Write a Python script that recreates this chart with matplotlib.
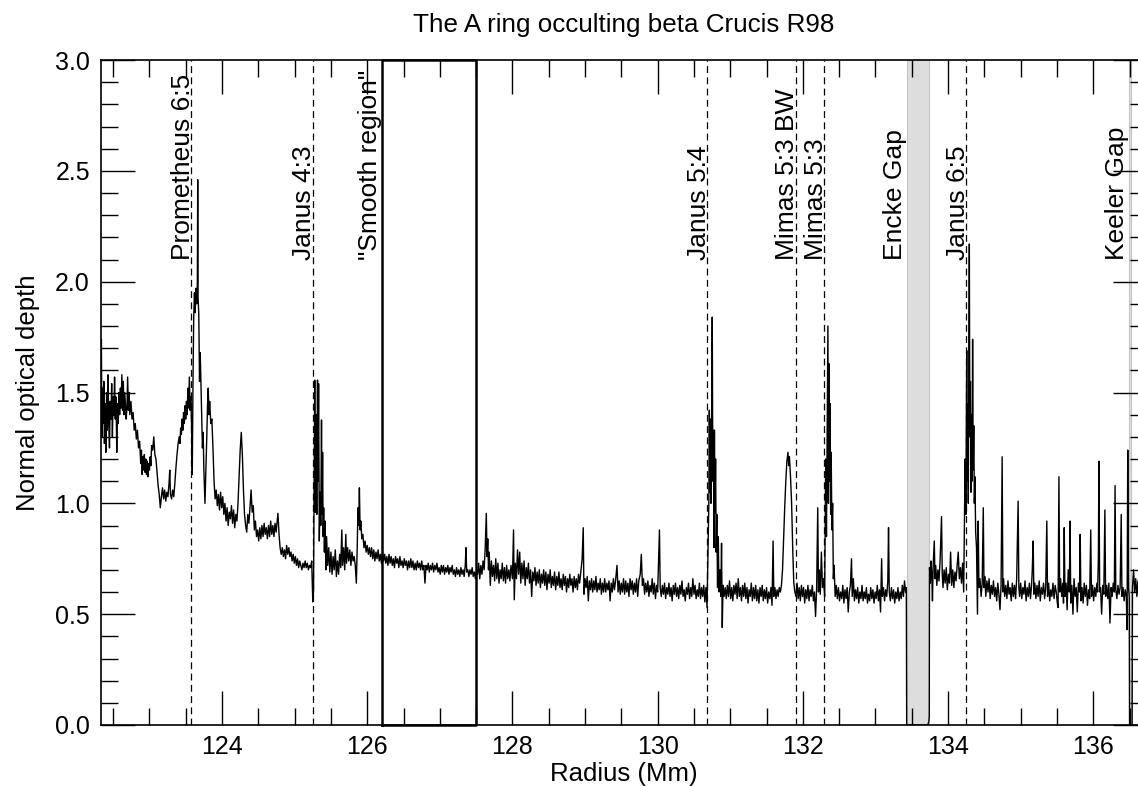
import matplotlib
matplotlib.use('Agg')
import matplotlib.pyplot as plt
from matplotlib.ticker import MultipleLocator
import numpy as np

plt.rcParams['font.family'] = ['Liberation Sans', 'DejaVu Sans']

# optical depth profile, (radius Mm, tau) pairs, region by region
inner_edge = [
    (122.330, 1.38), (122.338, 1.74), (122.346, 1.30), (122.355, 1.52), (122.363, 1.36),
    (122.372, 1.55), (122.380, 1.27), (122.390, 1.45), (122.400, 1.23), (122.410, 1.50),
    (122.420, 1.33), (122.430, 1.58), (122.440, 1.36), (122.450, 1.25), (122.460, 1.46),
    (122.470, 1.38), (122.480, 1.54), (122.490, 1.30), (122.500, 1.48), (122.510, 1.40),
    (122.520, 1.57), (122.530, 1.38), (122.540, 1.48), (122.550, 1.23), (122.560, 1.45),
    (122.570, 1.36), (122.580, 1.50), (122.590, 1.40), (122.600, 1.52), (122.610, 1.43),
    (122.620, 1.58), (122.630, 1.42), (122.640, 1.55), (122.650, 1.40), (122.660, 1.50),
    (122.670, 1.44), (122.680, 1.38), (122.690, 1.43), (122.700, 1.57), (122.710, 1.42),
    (122.720, 1.50), (122.730, 1.40), (122.745, 1.46), (122.760, 1.38), (122.775, 1.41),
    (122.790, 1.33), (122.805, 1.36), (122.820, 1.29), (122.835, 1.33), (122.850, 1.25),
    (122.865, 1.28), (122.880, 1.18), (122.890, 1.24), (122.900, 1.13), (122.910, 1.21),
    (122.920, 1.15), (122.930, 1.22), (122.940, 1.14), (122.950, 1.20), (122.960, 1.13),
    (122.970, 1.19), (122.980, 1.12), (122.990, 1.18), (123.000, 1.15), (123.010, 1.21),
    (123.020, 1.17), (123.030, 1.26), (123.045, 1.24), (123.060, 1.30), (123.075, 1.22),
    (123.090, 1.20), (123.105, 1.14), (123.120, 1.08), (123.135, 1.04), (123.150, 0.98),
    (123.165, 1.03), (123.180, 1.07), (123.195, 1.02), (123.210, 1.06), (123.225, 1.01),
    (123.240, 1.05), (123.255, 1.03), (123.270, 1.09), (123.280, 1.15), (123.290, 1.04),
    (123.305, 1.02), (123.320, 1.06), (123.335, 1.03), (123.350, 1.09), (123.365, 1.16),
    (123.380, 1.22), (123.395, 1.27), (123.410, 1.30), (123.420, 1.27), (123.430, 1.34),
    (123.440, 1.31), (123.450, 1.38), (123.460, 1.33), (123.470, 1.41), (123.480, 1.36),
    (123.490, 1.44), (123.500, 1.38), (123.510, 1.46), (123.520, 1.40), (123.530, 1.52),
    (123.540, 1.43), (123.550, 1.57), (123.560, 1.42), (123.570, 1.48), (123.580, 1.36),
    (123.590, 1.13), (123.600, 1.55), (123.610, 1.84), (123.620, 1.95), (123.630, 1.86),
    (123.640, 1.97), (123.650, 1.90), (123.660, 1.99), (123.665, 2.46), (123.670, 1.93),
    (123.680, 1.85), (123.690, 1.55), (123.700, 1.68), (123.710, 1.53), (123.720, 1.40),
    (123.730, 1.25), (123.740, 1.32), (123.750, 1.15), (123.765, 1.00), (123.775, 1.12),
    (123.790, 1.30), (123.800, 1.44), (123.810, 1.52), (123.820, 1.40), (123.830, 1.46),
    (123.845, 1.36), (123.860, 1.38), (123.875, 1.25), (123.890, 1.10), (123.905, 1.02),
    (123.920, 1.06), (123.935, 0.99), (123.950, 1.04), (123.965, 0.97), (123.980, 1.05),
    (123.995, 0.98),
]

prometheus_to_janus43 = [
    (124.010, 1.03), (124.025, 0.95), (124.040, 1.00), (124.055, 0.92), (124.070, 0.98),
    (124.085, 0.90), (124.100, 0.96), (124.115, 0.93), (124.130, 0.99), (124.145, 0.91),
    (124.160, 0.97), (124.175, 0.89), (124.190, 0.95), (124.205, 0.92), (124.220, 1.00),
    (124.235, 1.12), (124.250, 1.24), (124.265, 1.32), (124.280, 1.22), (124.295, 1.06),
    (124.310, 0.95), (124.325, 0.90), (124.340, 0.87), (124.355, 0.95), (124.370, 0.91),
    (124.385, 0.98), (124.400, 1.06), (124.415, 0.96), (124.430, 0.99), (124.445, 0.88),
    (124.460, 0.92), (124.475, 0.85), (124.490, 0.88), (124.505, 0.83), (124.520, 0.89),
    (124.535, 0.84), (124.550, 0.90), (124.565, 0.85), (124.580, 0.91), (124.595, 0.86),
    (124.610, 0.89), (124.625, 0.84), (124.640, 0.90), (124.655, 0.85), (124.670, 0.92),
    (124.685, 0.86), (124.700, 0.90), (124.715, 0.85), (124.730, 0.91), (124.745, 0.87),
    (124.760, 0.92), (124.770, 0.955), (124.785, 0.86), (124.800, 0.80), (124.815, 0.77),
    (124.830, 0.80), (124.845, 0.76), (124.860, 0.79), (124.875, 0.75), (124.890, 0.81),
    (124.905, 0.77), (124.920, 0.80), (124.935, 0.76), (124.950, 0.78), (124.965, 0.74),
    (124.980, 0.77), (124.995, 0.73), (125.010, 0.76), (125.025, 0.72), (125.040, 0.75),
    (125.055, 0.71), (125.070, 0.74), (125.085, 0.72), (125.100, 0.70), (125.115, 0.73),
    (125.130, 0.71), (125.145, 0.74), (125.160, 0.71), (125.175, 0.73), (125.190, 0.70),
    (125.205, 0.72), (125.220, 0.71), (125.235, 0.74), (125.250, 0.555),
]

janus43_region = [
    (125.260, 0.60), (125.270, 1.20), (125.277, 1.556), (125.285, 0.96), (125.295, 1.40),
    (125.305, 0.95), (125.315, 1.556), (125.322, 1.10), (125.330, 1.54), (125.340, 0.83),
    (125.350, 1.05), (125.360, 0.90), (125.370, 1.376), (125.378, 0.95), (125.385, 1.23),
    (125.393, 0.85), (125.400, 0.98), (125.410, 0.78), (125.420, 0.92), (125.430, 0.70),
    (125.440, 0.85), (125.455, 0.72), (125.470, 0.80), (125.485, 0.69), (125.500, 0.78),
    (125.515, 0.68), (125.530, 0.76), (125.545, 0.70), (125.560, 0.79), (125.575, 0.67),
    (125.590, 0.74), (125.605, 0.68), (125.620, 0.77), (125.635, 0.71), (125.650, 0.88),
    (125.660, 0.72), (125.675, 0.80), (125.690, 0.70), (125.705, 0.86), (125.715, 0.73),
    (125.730, 0.80), (125.745, 0.74), (125.760, 0.79), (125.775, 0.72), (125.790, 0.78),
    (125.805, 0.74), (125.820, 0.76), (125.835, 0.72), (125.850, 0.64), (125.862, 0.80),
    (125.872, 0.98), (125.882, 0.90), (125.892, 1.07), (125.902, 0.88), (125.912, 0.92),
    (125.925, 0.84), (125.940, 0.86), (125.955, 0.80), (125.970, 0.83), (125.985, 0.78),
    (126.000, 0.81), (126.015, 0.77), (126.030, 0.80),
]

smooth_region = [
    (126.045, 0.76), (126.060, 0.80), (126.075, 0.75), (126.090, 0.79), (126.105, 0.74),
    (126.120, 0.78), (126.135, 0.75), (126.150, 0.79), (126.165, 0.74), (126.180, 0.77),
    (126.195, 0.73), (126.210, 0.78), (126.225, 0.74), (126.240, 0.77), (126.255, 0.73),
    (126.270, 0.76), (126.285, 0.72), (126.300, 0.77), (126.315, 0.73), (126.330, 0.76),
    (126.345, 0.72), (126.360, 0.75), (126.375, 0.71), (126.390, 0.76), (126.405, 0.73),
    (126.420, 0.75), (126.435, 0.71), (126.450, 0.76), (126.465, 0.72), (126.480, 0.74),
    (126.495, 0.71), (126.510, 0.75), (126.525, 0.72), (126.540, 0.74), (126.555, 0.70),
    (126.570, 0.74), (126.585, 0.71), (126.600, 0.75), (126.615, 0.71), (126.630, 0.74),
    (126.645, 0.70), (126.660, 0.73), (126.675, 0.70), (126.690, 0.74), (126.705, 0.71),
    (126.720, 0.73), (126.735, 0.70), (126.750, 0.74), (126.765, 0.70), (126.780, 0.72),
    (126.795, 0.64), (126.810, 0.72), (126.825, 0.70), (126.840, 0.73), (126.855, 0.69),
    (126.870, 0.72), (126.885, 0.70), (126.900, 0.73), (126.915, 0.69), (126.930, 0.72),
    (126.945, 0.70), (126.960, 0.73), (126.975, 0.69), (126.990, 0.71), (127.005, 0.68),
    (127.020, 0.72), (127.035, 0.69), (127.050, 0.72), (127.065, 0.68), (127.080, 0.71),
    (127.095, 0.69), (127.110, 0.72), (127.125, 0.68), (127.140, 0.71), (127.155, 0.69),
    (127.170, 0.72), (127.185, 0.68), (127.200, 0.70), (127.215, 0.67), (127.230, 0.71),
    (127.245, 0.68), (127.260, 0.70), (127.275, 0.67), (127.290, 0.71), (127.305, 0.68),
    (127.320, 0.70), (127.335, 0.67), (127.350, 0.72), (127.360, 0.80), (127.370, 0.69),
    (127.385, 0.70), (127.400, 0.67), (127.415, 0.70), (127.430, 0.68), (127.445, 0.71),
    (127.460, 0.67), (127.475, 0.69), (127.490, 0.66), (127.505, 0.70), (127.520, 0.68),
]

mid_a_ring = [
    (127.535, 0.73), (127.550, 0.66), (127.565, 0.72), (127.580, 0.68), (127.595, 0.74),
    (127.610, 0.70), (127.625, 0.80), (127.640, 0.955), (127.650, 0.76), (127.660, 0.84),
    (127.670, 0.70), (127.680, 0.78), (127.695, 0.63), (127.710, 0.74), (127.725, 0.67),
    (127.740, 0.72), (127.755, 0.65), (127.770, 0.75), (127.785, 0.66), (127.800, 0.73),
    (127.815, 0.64), (127.830, 0.70), (127.845, 0.66), (127.860, 0.73), (127.875, 0.65),
    (127.890, 0.71), (127.905, 0.64), (127.920, 0.72), (127.935, 0.66), (127.950, 0.70),
    (127.965, 0.65), (127.980, 0.72), (128.000, 0.66), (128.015, 0.88), (128.025, 0.565),
    (128.040, 0.73), (128.055, 0.66), (128.070, 0.79), (128.085, 0.68), (128.100, 0.78),
    (128.115, 0.64), (128.130, 0.73), (128.145, 0.66), (128.160, 0.74), (128.175, 0.63),
    (128.190, 0.71), (128.205, 0.66), (128.220, 0.73), (128.235, 0.64), (128.250, 0.70),
    (128.265, 0.58), (128.280, 0.69), (128.295, 0.65), (128.310, 0.71), (128.325, 0.63),
    (128.340, 0.69), (128.355, 0.64), (128.370, 0.70), (128.385, 0.62), (128.400, 0.68),
    (128.415, 0.64), (128.430, 0.70), (128.445, 0.63), (128.460, 0.69), (128.475, 0.61),
    (128.490, 0.68), (128.505, 0.64), (128.520, 0.70), (128.535, 0.62), (128.550, 0.67),
    (128.565, 0.63), (128.580, 0.69), (128.595, 0.61), (128.610, 0.67), (128.625, 0.63),
    (128.640, 0.69), (128.655, 0.62), (128.670, 0.66), (128.685, 0.61), (128.700, 0.68),
    (128.715, 0.63), (128.730, 0.67), (128.745, 0.60), (128.760, 0.66), (128.775, 0.62),
    (128.790, 0.68), (128.805, 0.63), (128.820, 0.66), (128.835, 0.60), (128.850, 0.67),
    (128.865, 0.62), (128.880, 0.66), (128.895, 0.61), (128.910, 0.68), (128.925, 0.64),
    (128.945, 0.70), (128.960, 0.75), (128.975, 0.89), (128.985, 0.59), (129.000, 0.66),
    (129.015, 0.62), (129.030, 0.67), (129.045, 0.56), (129.060, 0.65), (129.075, 0.61),
    (129.090, 0.66), (129.105, 0.60), (129.120, 0.65), (129.135, 0.61), (129.150, 0.67),
    (129.165, 0.60), (129.180, 0.64), (129.195, 0.61), (129.210, 0.66), (129.225, 0.59),
    (129.240, 0.64), (129.255, 0.60), (129.270, 0.66), (129.285, 0.60), (129.300, 0.64),
    (129.315, 0.61), (129.330, 0.65), (129.345, 0.56), (129.360, 0.64), (129.375, 0.60),
    (129.390, 0.66), (129.405, 0.61), (129.420, 0.65), (129.440, 0.72), (129.455, 0.60),
    (129.470, 0.65), (129.485, 0.59), (129.500, 0.64), (129.515, 0.60), (129.530, 0.66),
    (129.545, 0.59), (129.560, 0.65), (129.575, 0.60), (129.590, 0.64), (129.605, 0.58),
    (129.620, 0.66), (129.635, 0.61), (129.650, 0.65), (129.665, 0.59), (129.680, 0.64),
    (129.695, 0.60), (129.710, 0.66), (129.725, 0.58), (129.740, 0.65), (129.760, 0.68),
    (129.775, 0.77), (129.790, 0.63), (129.805, 0.66), (129.820, 0.59), (129.835, 0.64),
    (129.850, 0.60), (129.865, 0.65), (129.880, 0.58), (129.895, 0.63), (129.910, 0.60),
    (129.925, 0.66), (129.940, 0.59), (129.955, 0.64), (129.970, 0.57), (129.985, 0.63),
    (130.000, 0.60), (130.025, 0.88), (130.035, 0.62), (130.050, 0.58), (130.065, 0.63),
    (130.080, 0.59), (130.095, 0.64), (130.110, 0.57), (130.125, 0.62), (130.140, 0.59),
    (130.155, 0.64), (130.170, 0.58), (130.185, 0.62), (130.200, 0.56), (130.215, 0.63),
    (130.230, 0.59), (130.245, 0.64), (130.260, 0.58), (130.275, 0.62), (130.290, 0.57),
    (130.305, 0.63), (130.320, 0.59), (130.335, 0.65), (130.350, 0.58), (130.365, 0.61),
    (130.380, 0.56), (130.395, 0.62), (130.410, 0.59), (130.425, 0.64), (130.440, 0.57),
    (130.455, 0.62), (130.470, 0.58), (130.485, 0.66), (130.500, 0.59), (130.515, 0.63),
    (130.530, 0.57), (130.545, 0.61), (130.560, 0.58), (130.575, 0.64), (130.590, 0.57),
    (130.605, 0.62), (130.620, 0.58), (130.635, 0.63), (130.650, 0.555), (130.665, 0.62),
    (130.680, 0.53),
]

janus54_to_mimas53 = [
    (130.695, 0.80), (130.705, 1.00), (130.712, 1.42), (130.720, 1.05), (130.727, 1.38),
    (130.735, 1.00), (130.742, 1.30), (130.752, 1.84), (130.760, 1.10), (130.768, 1.33),
    (130.775, 0.80), (130.782, 1.33), (130.790, 0.955), (130.798, 1.20), (130.806, 0.78),
    (130.815, 0.95), (130.825, 0.62), (130.835, 0.85), (130.845, 0.60), (130.858, 0.70),
    (130.870, 0.58), (130.880, 0.82), (130.890, 0.44), (130.900, 0.63), (130.915, 0.58),
    (130.930, 0.62), (130.945, 0.57), (130.960, 0.63), (130.975, 0.58), (130.990, 0.65),
    (131.005, 0.57), (131.020, 0.62), (131.035, 0.56), (131.050, 0.63), (131.065, 0.59),
    (131.080, 0.64), (131.095, 0.57), (131.110, 0.66), (131.125, 0.58), (131.140, 0.62),
    (131.155, 0.56), (131.170, 0.63), (131.185, 0.58), (131.200, 0.64), (131.215, 0.57),
    (131.230, 0.62), (131.245, 0.55), (131.260, 0.61), (131.275, 0.58), (131.290, 0.64),
    (131.305, 0.56), (131.320, 0.62), (131.335, 0.57), (131.350, 0.63), (131.365, 0.56),
    (131.380, 0.61), (131.395, 0.55), (131.410, 0.62), (131.425, 0.58), (131.440, 0.63),
    (131.455, 0.56), (131.470, 0.61), (131.485, 0.57), (131.500, 0.62), (131.515, 0.55),
    (131.530, 0.60), (131.545, 0.57), (131.560, 0.62), (131.575, 0.54), (131.590, 0.83),
    (131.600, 0.58), (131.615, 0.62), (131.630, 0.57), (131.645, 0.61), (131.660, 0.58),
    (131.675, 0.62), (131.690, 0.60), (131.705, 0.63), (131.720, 0.70), (131.735, 0.84),
    (131.750, 0.98), (131.765, 1.10), (131.780, 1.19), (131.795, 1.23), (131.805, 1.17),
    (131.815, 1.21), (131.830, 1.12), (131.845, 1.00), (131.860, 0.80), (131.875, 0.64),
    (131.890, 0.60), (131.905, 0.58), (131.920, 0.64), (131.935, 0.57), (131.950, 0.62),
    (131.965, 0.56), (131.980, 0.63), (131.995, 0.58), (132.010, 0.62), (132.025, 0.55),
    (132.040, 0.61), (132.055, 0.57), (132.070, 0.63), (132.085, 0.56), (132.100, 0.61),
    (132.115, 0.58), (132.130, 0.63), (132.145, 0.56), (132.160, 0.60), (132.175, 0.49),
    (132.190, 0.62), (132.205, 0.98), (132.215, 0.60), (132.225, 0.70), (132.240, 0.59),
    (132.255, 0.78), (132.270, 0.62), (132.285, 0.66), (132.300, 0.58), (132.315, 1.20),
    (132.325, 0.85), (132.335, 1.35), (132.345, 1.80), (132.352, 1.00), (132.360, 1.63),
    (132.368, 1.10), (132.375, 1.45), (132.383, 0.95), (132.390, 1.23), (132.400, 0.88),
    (132.410, 1.00), (132.420, 0.66), (132.430, 0.72), (132.445, 0.58),
]

mimas53_to_encke = [
    (132.460, 0.63), (132.475, 0.57), (132.490, 0.62), (132.505, 0.56), (132.520, 0.60),
    (132.535, 0.57), (132.550, 0.63), (132.565, 0.55), (132.580, 0.61), (132.595, 0.57),
    (132.610, 0.62), (132.625, 0.51), (132.640, 0.60), (132.655, 0.63), (132.670, 0.75),
    (132.680, 0.58), (132.695, 0.66), (132.710, 0.56), (132.725, 0.61), (132.740, 0.57),
    (132.755, 0.62), (132.770, 0.55), (132.785, 0.60), (132.800, 0.57), (132.815, 0.63),
    (132.830, 0.56), (132.845, 0.60), (132.860, 0.57), (132.875, 0.62), (132.890, 0.55),
    (132.905, 0.59), (132.920, 0.56), (132.935, 0.62), (132.950, 0.57), (132.965, 0.61),
    (132.980, 0.55), (132.995, 0.60), (133.010, 0.57), (133.025, 0.63), (133.040, 0.56),
    (133.055, 0.61), (133.070, 0.51), (133.085, 0.75), (133.095, 0.58), (133.110, 0.62),
    (133.125, 0.56), (133.140, 0.61), (133.155, 0.58), (133.170, 0.65), (133.180, 0.89),
    (133.190, 0.60), (133.205, 0.56), (133.220, 0.62), (133.235, 0.57), (133.250, 0.61),
    (133.265, 0.55), (133.280, 0.60), (133.295, 0.57), (133.310, 0.62), (133.325, 0.56),
    (133.340, 0.60), (133.355, 0.57), (133.370, 0.63), (133.385, 0.58), (133.400, 0.65),
    (133.415, 0.60), (133.425, 0.62),
]

encke_gap = [
    (133.430, 0.00), (133.720, 0.00), (133.735, 0.015), (133.741, 0.04),
]

outer_a_ring = [
    (133.744, 0.71), (133.755, 0.64), (133.765, 0.74), (133.775, 0.68), (133.785, 0.56),
    (133.795, 0.72), (133.810, 0.83), (133.820, 0.66), (133.830, 0.72), (133.845, 0.63),
    (133.860, 0.70), (133.875, 0.65), (133.890, 0.74), (133.910, 0.94), (133.920, 0.68),
    (133.930, 0.62), (133.945, 0.70), (133.960, 0.64), (133.975, 0.71), (133.990, 0.61),
    (134.005, 0.68), (134.020, 0.64), (134.035, 0.78), (134.050, 0.63), (134.065, 0.70),
    (134.080, 0.62), (134.095, 0.69), (134.110, 0.65), (134.125, 0.72), (134.140, 0.78),
    (134.155, 0.66), (134.170, 0.71), (134.185, 0.64), (134.200, 0.73), (134.215, 0.60),
    (134.225, 0.88), (134.235, 1.20), (134.245, 0.95), (134.257, 1.69), (134.264, 1.10),
    (134.272, 1.45), (134.279, 1.00), (134.286, 1.68), (134.293, 2.17), (134.300, 1.30),
    (134.308, 1.55), (134.316, 1.05), (134.324, 1.40), (134.331, 1.10), (134.338, 1.74),
    (134.346, 1.15), (134.354, 1.35), (134.362, 1.00), (134.370, 1.12), (134.380, 0.87),
    (134.392, 0.80), (134.405, 0.50), (134.415, 0.92), (134.425, 0.62), (134.440, 0.66),
    (134.455, 0.58), (134.470, 0.64), (134.485, 0.98), (134.495, 0.62), (134.505, 0.67),
    (134.520, 0.58), (134.535, 0.65), (134.550, 0.60), (134.565, 0.66), (134.580, 0.57),
    (134.595, 0.63), (134.610, 0.59), (134.625, 0.65), (134.640, 0.58), (134.655, 0.62),
    (134.670, 0.56), (134.685, 0.64), (134.700, 0.59), (134.715, 0.52), (134.730, 0.63),
    (134.745, 1.21), (134.755, 0.60), (134.765, 0.66), (134.780, 0.58), (134.795, 0.63),
    (134.810, 0.57), (134.825, 0.65), (134.840, 0.59), (134.855, 0.62), (134.870, 0.56),
    (134.885, 0.64), (134.900, 0.58), (134.915, 0.63), (134.930, 0.57), (134.945, 0.66),
    (134.965, 1.01), (134.975, 0.62), (134.985, 0.58), (135.000, 0.64), (135.015, 0.57),
    (135.030, 0.62), (135.045, 0.59), (135.060, 0.65), (135.075, 0.56), (135.090, 0.62),
    (135.105, 0.58), (135.120, 0.64), (135.135, 0.57), (135.150, 0.63), (135.160, 0.70),
    (135.172, 0.83), (135.182, 0.59), (135.195, 0.64), (135.210, 0.57), (135.225, 0.63),
    (135.240, 0.58), (135.255, 0.65), (135.270, 0.56), (135.285, 0.62), (135.300, 0.59),
    (135.315, 0.64), (135.330, 0.57), (135.345, 0.62), (135.360, 0.92), (135.370, 0.58),
    (135.385, 0.64), (135.400, 0.56), (135.415, 0.61), (135.430, 0.58), (135.445, 0.64),
    (135.460, 0.57), (135.475, 0.63), (135.490, 0.60), (135.505, 0.55), (135.515, 0.53),
    (135.527, 1.12), (135.537, 0.60), (135.550, 0.66), (135.565, 0.58), (135.580, 0.64),
    (135.590, 0.55), (135.600, 0.89), (135.610, 0.58), (135.625, 0.64), (135.640, 0.52),
    (135.655, 0.70), (135.670, 0.60), (135.680, 0.92), (135.690, 0.55), (135.705, 0.63),
    (135.720, 0.50), (135.735, 0.66), (135.750, 0.58), (135.765, 0.62), (135.780, 0.51),
    (135.795, 0.64), (135.810, 0.60), (135.820, 0.86), (135.830, 0.56), (135.845, 0.62),
    (135.860, 0.55), (135.875, 0.64), (135.890, 0.58), (135.905, 0.63), (135.920, 0.54),
    (135.935, 0.61), (135.950, 0.57), (135.965, 0.88), (135.975, 0.58), (135.990, 0.63),
    (136.005, 0.56), (136.020, 0.62), (136.035, 0.58), (136.050, 0.64), (136.060, 0.60),
    (136.070, 0.75), (136.078, 1.19), (136.088, 0.60), (136.100, 0.62), (136.115, 0.50),
    (136.130, 0.63), (136.145, 0.59), (136.160, 0.97), (136.170, 0.58), (136.185, 0.63),
    (136.200, 0.57), (136.215, 0.64), (136.230, 0.46), (136.245, 0.62), (136.260, 0.58),
    (136.275, 0.64), (136.290, 0.60), (136.300, 1.08), (136.310, 0.61), (136.325, 0.57),
    (136.340, 0.63), (136.355, 0.59), (136.370, 0.62), (136.385, 0.95), (136.395, 0.58),
    (136.410, 0.62), (136.425, 0.56), (136.440, 0.61), (136.455, 0.58), (136.465, 0.43),
    (136.475, 1.24), (136.485, 0.62), (136.495, 0.58),
]

keeler_gap = [
    (136.500, 0.00), (136.535, 0.00),
]

beyond_keeler = [
    (136.540, 0.62), (136.555, 0.70), (136.570, 0.60), (136.585, 0.66), (136.600, 0.58),
    (136.615, 0.65), (136.630, 0.59), (136.645, 0.64), (136.660, 0.60), (136.675, 0.66),
    (136.690, 0.58), (136.705, 0.63), (136.720, 0.60), (136.735, 0.65), (136.750, 0.61),
]

# resonance locations (Mm) and their labels
resonance_r = [123.573, 125.249, 130.685, 131.900, 132.296, 134.248]
resonance_names = ['Prometheus 6:5', 'Janus 4:3', 'Janus 5:4',
                   'Mimas 5:3 BW', 'Mimas 5:3', 'Janus 6:5']

# gaps and the reference box
encke_edges = (133.430, 133.742)
keeler_edges = (136.490, 136.525)
smooth_box = (126.2, 127.5)

profile = np.array(inner_edge + prometheus_to_janus43 + janus43_region + smooth_region
                   + mid_a_ring + janus54_to_mimas53 + mimas53_to_encke + encke_gap
                   + outer_a_ring + keeler_gap + beyond_keeler)
radius, tau = profile[:, 0], profile[:, 1]

W, H = 1138, 786
fig = plt.figure(figsize=(W / 100, H / 100), dpi=100)
# right spine sits just past the image edge, as in the original
ax = fig.add_axes([101 / W, 61 / H, 1046 / W, 665 / H])

for lo, hi in (encke_edges, keeler_edges):
    ax.axvspan(lo, hi, facecolor='#dddddd', edgecolor='#c4c4c4', lw=0.8, zorder=1)

ax.plot(radius, tau, color='k', lw=1.0, zorder=3)

for pos in resonance_r:
    ax.axvline(pos, color='k', lw=0.9, ls=(0, (5.5, 3.5)), zorder=2)

bx0, bx1 = smooth_box
ax.plot([bx0, bx0, bx1, bx1, bx0], [0, 3, 3, 0, 0], color='k', lw=1.8,
        zorder=4, clip_on=False)

label_kw = dict(rotation=90, ha='right', va='bottom', fontsize=19,
                textcoords='offset points', zorder=5)
for pos, name in zip(resonance_r, resonance_names):
    ax.annotate(name, xy=(pos, 2.1), xytext=(2.5, 0), **label_kw)
ax.annotate('"Smooth region"', xy=(bx0, 2.1), xytext=(0, 0), **label_kw)
ax.annotate('Encke Gap', xy=(encke_edges[0], 2.1), xytext=(0, 0), **label_kw)
ax.annotate('Keeler Gap', xy=(keeler_edges[0], 2.1), xytext=(0, 0), **label_kw)

ax.set_xlim(122.333, 136.74)
ax.set_ylim(0, 3)
ax.xaxis.set_major_locator(MultipleLocator(2))
ax.xaxis.set_minor_locator(MultipleLocator(0.5))
ax.yaxis.set_major_locator(MultipleLocator(0.5))
ax.yaxis.set_minor_locator(MultipleLocator(0.1))
ax.tick_params(which='both', direction='in', top=True, right=True,
               labelsize=18, width=1.0)
ax.tick_params(which='major', length=24.5)
ax.tick_params(which='minor', length=12.2)
ax.tick_params(axis='x', pad=7)
ax.tick_params(axis='y', pad=8)
for sp in ax.spines.values():
    sp.set_linewidth(1.2)

ax.set_title('The A ring occulting beta Crucis R98', fontsize=18.7, pad=20)
ax.set_xlabel('Radius (Mm)', fontsize=18.5, labelpad=2)
ax.set_ylabel('Normal optical depth', fontsize=18.5, labelpad=11)

fig.savefig('out.png', dpi=100)
